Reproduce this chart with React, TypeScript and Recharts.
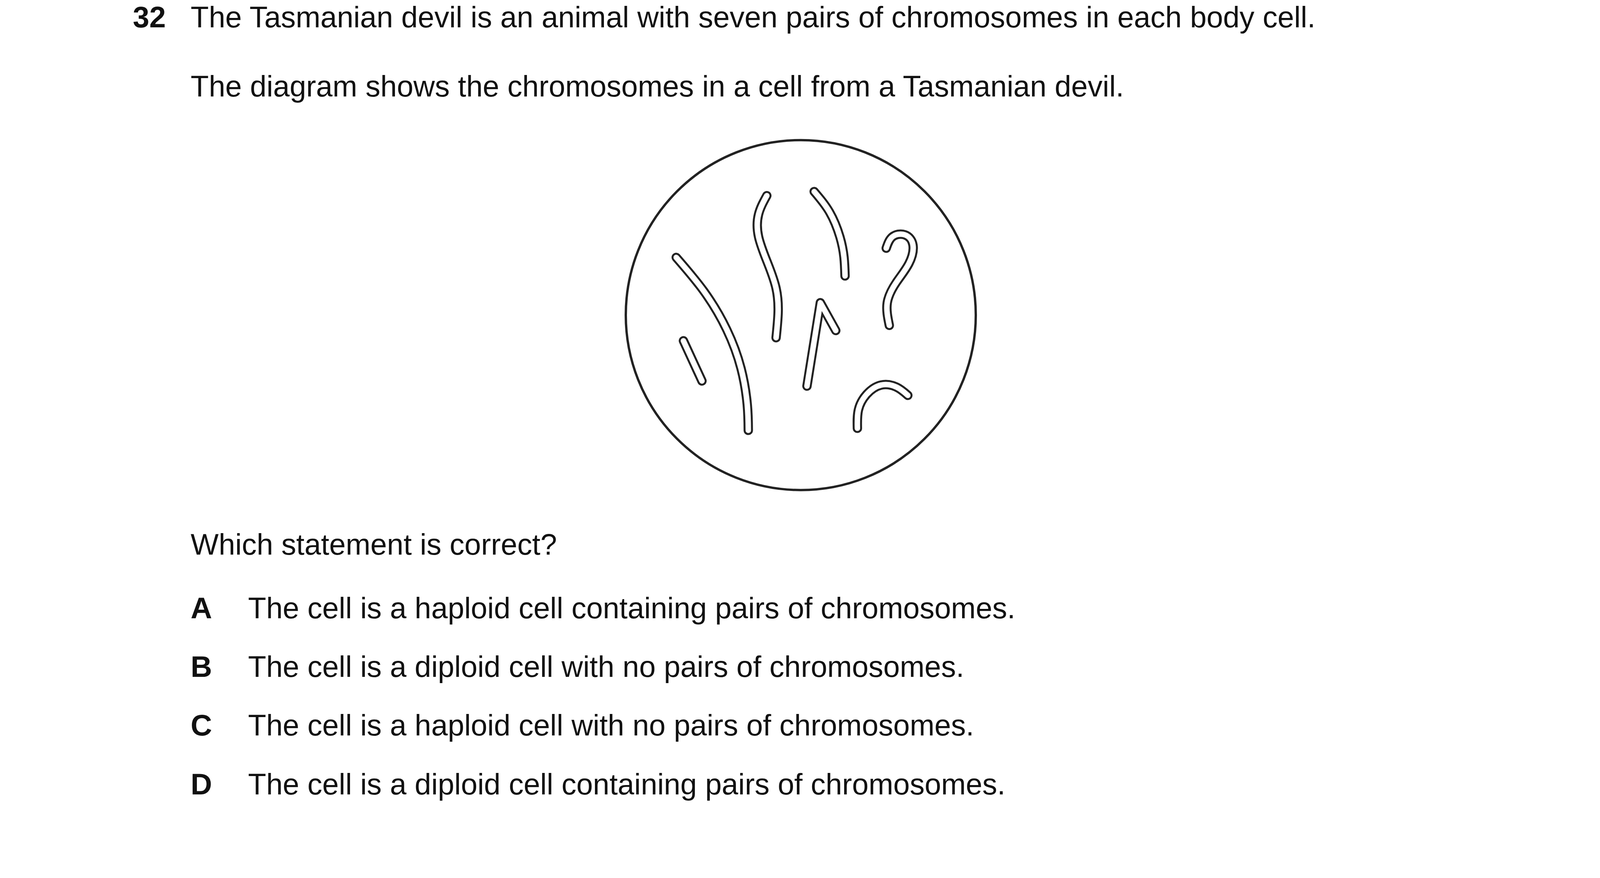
import { LineChart, Line, XAxis, YAxis, ReferenceDot } from 'recharts';

// coordinates are in reference display units (1568 x 853)
const longChromosome = [
  { x: 663, y: 252 }, { x: 690, y: 285 }, { x: 712, y: 322 }, { x: 726, y: 360 }, { x: 732, y: 395 }, { x: 733, y: 420 },
];
const shortChromosome = [{ x: 670, y: 333 }, { x: 688, y: 372 }];
const sChromosome = [
  { x: 751, y: 192 }, { x: 743, y: 210 }, { x: 743, y: 232 }, { x: 752, y: 258 }, { x: 760, y: 282 }, { x: 762, y: 305 }, { x: 760, y: 330 },
];
const bentChromosome = [
  { x: 797, y: 188 }, { x: 812, y: 208 }, { x: 822, y: 232 }, { x: 826, y: 252 }, { x: 827, y: 270 },
];
const vChromosome = [{ x: 790, y: 377 }, { x: 803, y: 296 }, { x: 818, y: 323 }];
const hookChromosome = [
  { x: 870, y: 318 }, { x: 868, y: 296 }, { x: 877, y: 276 }, { x: 889, y: 258 }, { x: 893, y: 240 }, { x: 885, y: 230 }, { x: 873, y: 232 }, { x: 867, y: 243 },
];
const arcChromosome = [
  { x: 839, y: 418 }, { x: 840, y: 400 }, { x: 848, y: 385 }, { x: 862, y: 376 }, { x: 877, y: 378 }, { x: 888, y: 386 },
];
const chromosomes = [
  { data: longChromosome, type: 'natural' },
  { data: shortChromosome, type: 'linear' },
  { data: sChromosome, type: 'natural' },
  { data: bentChromosome, type: 'natural' },
  { data: vChromosome, type: 'linear' },
  { data: hookChromosome, type: 'natural' },
  { data: arcChromosome, type: 'natural' },
];
const cell = { x: 784, y: 308 };

const textLines = [
  { left: 488, base: 76, text: 'The Tasmanian devil is an animal with seven pairs of chromosomes in each body cell.' },
  { left: 488, base: 253, text: 'The diagram shows the chromosomes in a cell from a Tasmanian devil.' },
  { left: 488, base: 1426, text: 'Which statement is correct?' },
];
const options = [
  { key: 'A', base: 1589, text: 'The cell is a haploid cell containing pairs of chromosomes.' },
  { key: 'B', base: 1739, text: 'The cell is a diploid cell with no pairs of chromosomes.' },
  { key: 'C', base: 1889, text: 'The cell is a haploid cell with no pairs of chromosomes.' },
  { key: 'D', base: 2040, text: 'The cell is a diploid cell containing pairs of chromosomes.' },
];

const FS = 76;
const txt = (left: number, base: number, bold = false): React.CSSProperties => ({
  position: 'absolute', left, top: base - 70, fontSize: FS, lineHeight: 1, whiteSpace: 'nowrap',
  fontWeight: bold ? 'bold' : 'normal', fontFamily: '"Liberation Sans", Arial, sans-serif', color: '#111',
});

export default function App() {
  return (
    <div style={{ position: 'absolute', left: 0, top: 0, width: 4132, height: 2248, background: '#fff', overflow: 'hidden' }}>
      <LineChart width={4132} height={2248} margin={{ top: 0, right: 0, bottom: 0, left: 0 }} style={{ position: 'absolute', left: -16, top: -5 }}>
        <XAxis type="number" dataKey="x" domain={[0, 1568]} hide allowDataOverflow />
        <YAxis type="number" dataKey="y" domain={[0, 853]} reversed hide allowDataOverflow />
        <ReferenceDot x={cell.x} y={cell.y} r={448} fill="none" stroke="#222" strokeWidth={6} />
        {chromosomes.map((c, i) => (
          <Line key={'o' + i} data={c.data} dataKey="y" type={c.type as any} stroke="#222" strokeWidth={24}
            strokeLinecap="round" strokeLinejoin="round" dot={false} isAnimationActive={false} />
        ))}
        {chromosomes.map((c, i) => (
          <Line key={'i' + i} data={c.data} dataKey="y" type={c.type as any} stroke="#fff" strokeWidth={14}
            strokeLinecap="round" strokeLinejoin="round" dot={false} isAnimationActive={false} />
        ))}
      </LineChart>
      <div style={txt(340, 76, true)}>32</div>
      {textLines.map((t) => (
        <div key={t.base} style={txt(t.left, t.base)}>{t.text}</div>
      ))}
      {options.map((o) => (
        <div key={o.key}>
          <div style={txt(488, o.base, true)}>{o.key}</div>
          <div style={txt(635, o.base)}>{o.text}</div>
        </div>
      ))}
    </div>
  );
}
